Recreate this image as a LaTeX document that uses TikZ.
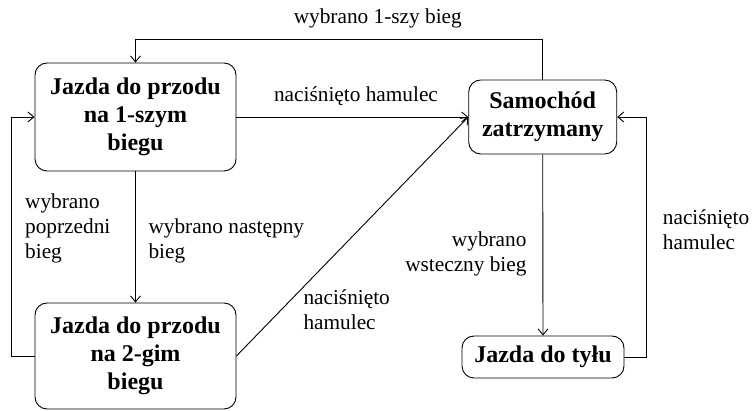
\documentclass[tikz,border=0pt]{standalone}
\usepackage{fontspec}
\setmainfont{Liberation Serif}
\usetikzlibrary{arrows.meta}
\begin{document}
\begin{tikzpicture}[x=1pt,y=-1pt,
  state/.style={draw,rounded corners=12pt,line width=0.9pt,align=center,inner sep=0pt,
    font=\fontsize{24}{28}\selectfont\bfseries},
  lbl/.style={inner sep=0pt,font=\fontsize{21.3}{25}\selectfont},
  arr/.style={line width=0.9pt,-{Straight Barb[length=6pt,width=10pt]}},
  ln/.style={line width=0.9pt}]
\useasboundingbox (0,0) rectangle (753,411);
\node[state,minimum width=201pt,minimum height=108pt] (A) at (135.5,117) {Jazda do przodu\\na 1-szym\\biegu};
\node[state,minimum width=201pt,minimum height=106pt] (B) at (135.5,356) {Jazda do przodu\\na 2-gim\\biegu};
\node[state,minimum width=148pt,minimum height=74pt] (C) at (542.7,117) {Samochód\\zatrzymany};
\node[state,minimum width=162pt,minimum height=42pt] (D) at (543,357) {Jazda do tyłu};
\coordinate (top) at (0,39.5);
\coordinate (lft) at (11.7,0);
\coordinate (rgt) at (646.7,0);
\draw[arr] (C.north) -- (C.north |- top) -- (A.north |- top) -- (A.north);
\draw[arr] (A.east) -- (C.west);
\draw[arr] (B.east) -- (C.west);
\draw[arr] (A.south) -- (B.north);
\draw[arr] (B.west) -- (B.west -| lft) -- (A.west -| lft) -- (A.west);
\draw[arr] (C.south) -- (D.north);
\draw[arr] (D.east) -- (D.east -| rgt) -- (C.east -| rgt) -- (C.east);
\node[lbl,anchor=base] (l1) at (377.8,24) {wybrano 1-szy bieg};
\node[lbl,anchor=base] (l2) at (356,101.7) {naciśnięto hamulec};
\node[lbl,anchor=base west,align=left] (l3) at (25,258.3) {wybrano\\poprzedni\\bieg};
\node[lbl,anchor=base west,align=left] (l4) at (148.3,258.3) {wybrano następny\\bieg};
\node[lbl,anchor=base west,align=left] (l5) at (303.3,330) {naciśnięto\\hamulec};
\node[lbl,anchor=base east,align=right] (l6) at (526.7,271.7) {wybrano\\wsteczny bieg};
\node[lbl,anchor=base west,align=left] (l7) at (662.7,250) {naciśnięto\\hamulec};
\end{tikzpicture}
\end{document}
